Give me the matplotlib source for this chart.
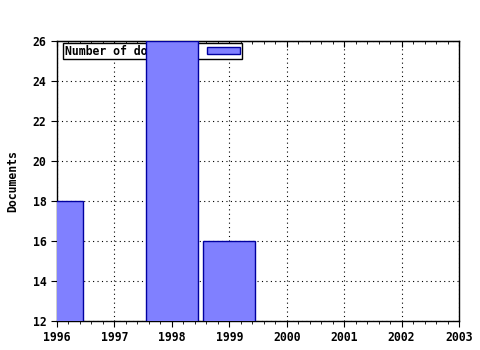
import matplotlib
matplotlib.use("Agg")
from matplotlib import pyplot as plt
from matplotlib.ticker import MultipleLocator

years = [1996, 1998, 1999]
documents = [18, 26, 16]
legend_label = "Number of documents"
y_label = "Documents"


def main():
    plt.rcParams['font.family'] = 'DejaVu Sans Mono'
    plt.rcParams['font.weight'] = 'bold'
    plt.rcParams['font.size'] = 8

    fig = plt.figure(figsize=(4.8, 3.5), dpi=100)
    ax = fig.add_axes([57 / 480, 1 - 321 / 350, 402 / 480, 280 / 350])

    ax.bar(years, documents, width=0.9, color='#8080ff', edgecolor='#0000a0',
           linewidth=1.0, label=legend_label, zorder=3)

    ax.set_xlim(1996, 2003)
    ax.set_ylim(12, 26)
    ax.xaxis.set_major_locator(MultipleLocator(1))
    ax.xaxis.set_minor_locator(MultipleLocator(0.2))
    ax.yaxis.set_major_locator(MultipleLocator(2))

    ax.grid(True, color='black', linestyle=(0, (1, 3)), linewidth=0.8, zorder=0)
    ax.set_axisbelow(True)

    ax.tick_params(axis='x', which='major', direction='out', length=4, width=0.8, top=False)
    ax.tick_params(axis='x', which='minor', direction='out', length=2, width=0.6, top=False)
    ax.tick_params(axis='y', direction='out', length=4, width=0.8)
    ax.tick_params(labelsize=8.3)

    # inward ticks along the top edge
    top = ax.secondary_xaxis('top')
    top.xaxis.set_major_locator(MultipleLocator(1))
    top.xaxis.set_minor_locator(MultipleLocator(0.2))
    top.tick_params(which='major', direction='in', length=4, width=0.8, labeltop=False)
    top.tick_params(which='minor', direction='in', length=2, width=0.6, labeltop=False)

    for side in ['left', 'right', 'top', 'bottom']:
        ax.spines[side].set_linewidth(1.0)
        ax.spines[side].set_color('black')

    ax.set_ylabel(y_label, fontsize=8.3, fontweight='bold', labelpad=10)

    leg = ax.legend(loc='upper left', bbox_to_anchor=(6 / 402, 1 - 2 / 280),
                    markerfirst=False, fancybox=False, shadow=False,
                    edgecolor='black', framealpha=1, borderpad=0.15,
                    handlelength=2.9, handleheight=0.6, handletextpad=1.0,
                    borderaxespad=0, fontsize=8.3)
    leg.get_frame().set_linewidth(1.0)
    leg.set_zorder(1)

    fig.savefig('out.png', dpi=100)


if __name__ == '__main__':
    main()
